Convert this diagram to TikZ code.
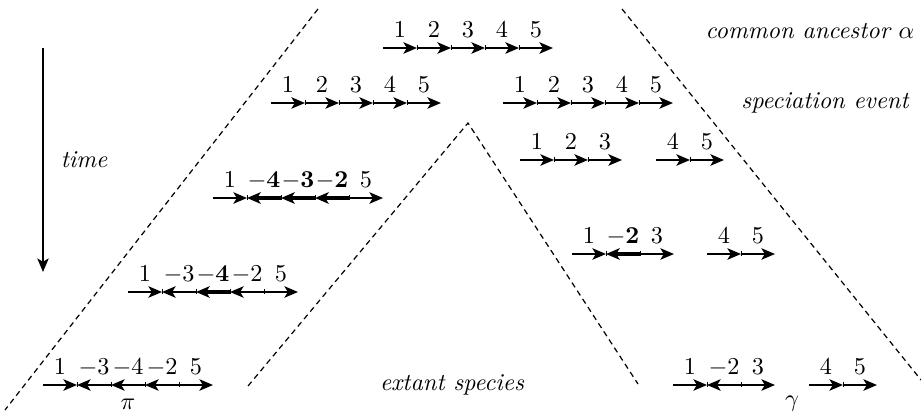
\documentclass[tikz,border=0pt]{standalone}
\usepackage{amsmath}
\usepackage{tikz}
\usetikzlibrary{arrows.meta}

\tikzset{
  gene/.style={line width=0.85pt,-{Stealth[length=5.6pt,width=4.7pt,inset=1.4pt]}},
  genetick/.style={line width=0.4pt},
  genelabel/.style={inner sep=0pt,anchor=base},
  tree/.style={line width=0.5pt,dash pattern=on 2.3pt off 1.7pt},
  caption/.style={font=\itshape,inner sep=0pt}
}

% #1 name, (#2,#3) left end, #4 genes as direction/label/width
\newcommand{\chromosome}[4]{%
  \foreach \r/\lab/\w [count=\i from 0] in {#4} {
    \ifnum\i>0
      \draw (#2+34*\i,#3-2.5) [genetick] -- (#2+34*\i,#3+2.5);
    \fi
    \draw ({#2+34*(\i+1-\r)},#3) [gene,line width=\w pt] -- ({#2+34*(\i+\r)},#3);
    \node [genelabel] (#1-\i) at ({#2+34*\i+17},#3-10) {\lab};
  }
}

\begin{document}
\begin{tikzpicture}[x=0.0145cm,y=-0.0145cm]
\definecolor{treecolor}{RGB}{0,0,0}
\useasboundingbox (0,0) rectangle (921,414);
\coordinate (lt) at (318,9);
\coordinate (lb) at (5,410);
\coordinate (apex) at (468,123);
\coordinate (il) at (248,386);
\coordinate (ir) at (638,384);
\coordinate (rt) at (622,9);
\coordinate (rb) at (921,380);
\draw (lt) [tree,treecolor] -- (lb);
\draw (il) [tree,treecolor] -- (apex) -- (ir);
\draw (rt) [tree,treecolor] -- (rb);
\coordinate (t0) at (43,48);
\coordinate (t1) at (43,272);
\draw (t0) [gene,line width=0.6pt] -- (t1);
\node [caption] (time) at (84,160) {time};
\chromosome{anc}{383}{48}{1/1/0.85,1/2/0.85,1/3/0.85,1/4/0.85,1/5/0.85}
\chromosome{spl}{271}{103}{1/1/0.85,1/2/0.85,1/3/0.85,1/4/0.85,1/5/0.85}
\chromosome{spr}{503}{103}{1/1/0.85,1/2/0.85,1/3/0.85,1/4/0.85,1/5/0.85}
\chromosome{pia}{213}{198}{1/1/0.85,0/{$-\mathbf{4}$}/1.6,0/{$-\mathbf{3}$}/1.6,0/{$-\mathbf{2}$}/1.6,1/5/0.85}
\chromosome{pib}{128}{292}{1/1/0.85,0/{$-3$}/0.85,0/{$-\mathbf{4}$}/1.6,0/{$-2$}/0.85,1/5/0.85}
\chromosome{pic}{43}{385}{1/1/0.85,0/{$-3$}/0.85,0/{$-4$}/0.85,0/{$-2$}/0.85,1/5/0.85}
\chromosome{gaa}{520}{160}{1/1/0.85,1/2/0.85,1/3/0.85}
\chromosome{gab}{656}{160}{1/4/0.85,1/5/0.85}
\chromosome{gba}{572}{254}{1/1/0.85,0/{$-\mathbf{2}$}/1.6,1/3/0.85}
\chromosome{gbb}{707}{254}{1/4/0.85,1/5/0.85}
\chromosome{gca}{673}{385}{1/1/0.85,0/{$-2$}/0.85,1/3/0.85}
\chromosome{gcb}{809}{385}{1/4/0.85,1/5/0.85}
\node (pi) at (128,404) {$\pi$};
\node (gamma) at (792,404) {$\gamma$};
\node [caption] (ancestor) at (810,31) {common ancestor $\alpha$};
\node [caption] (speciation) at (825,103) {speciation event};
\node [caption] (extant) at (452,385) {extant species};
\end{tikzpicture}
\end{document}
